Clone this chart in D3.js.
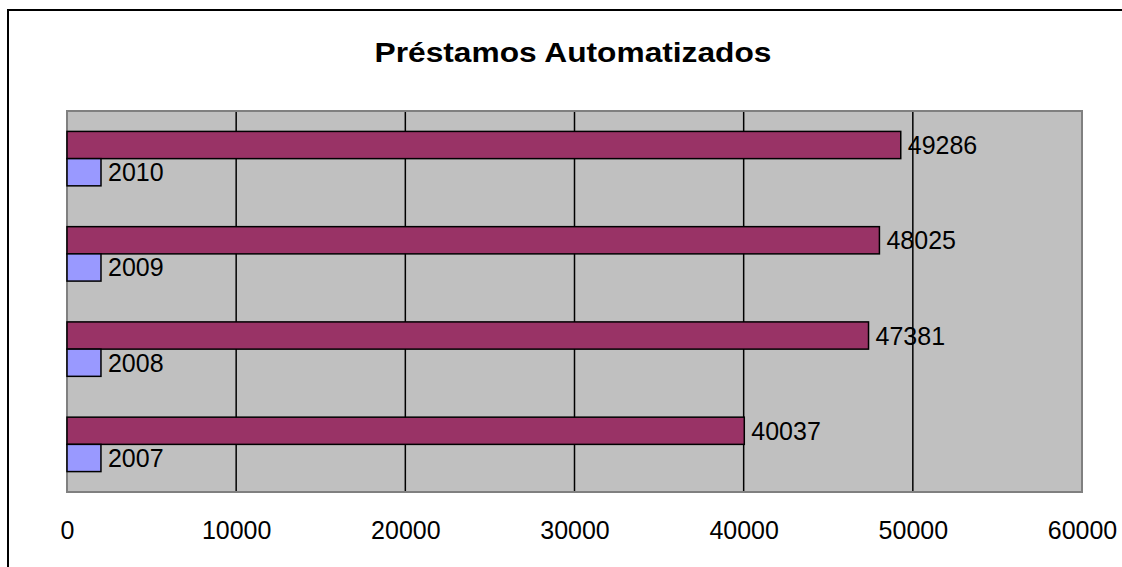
<!DOCTYPE html>
<html>
<head>
<meta charset="utf-8">
<script src="https://cdn.jsdelivr.net/npm/d3@7"></script>
<style>
  html, body { margin: 0; padding: 0; background: #fff; }
  svg { display: block; }
  text { font-family: "Liberation Sans", Arial, sans-serif; fill: #000; }
</style>
</head>
<body>
<svg id="chart" width="1122" height="567"></svg>
<script>
const title = "Préstamos Automatizados";
const categories = ["2007", "2008", "2009", "2010"];
const yearValues = [2007, 2008, 2009, 2010];
const loanValues = [40037, 47381, 48025, 49286];
const tickValues = [0, 10000, 20000, 30000, 40000, 50000, 60000];
const seriesNames = ["loans", "year"];

const data = categories.map((c, i) => ({ cat: c, loans: loanValues[i], year: yearValues[i] }));

const svg = d3.select("#chart");
const plot = { left: 67, right: 1082, top: 111, bottom: 492 };

// Outer chart frame (extends past the image on right and bottom)
svg.append("rect")
  .attr("x", 8).attr("y", 10)
  .attr("width", 1200).attr("height", 700)
  .attr("fill", "#fff").attr("stroke", "#000").attr("stroke-width", 2);

// Title (glyphs stretched horizontally as in the reference)
const titleText = svg.append("text")
  .attr("text-anchor", "middle")
  .attr("font-size", 27).attr("font-weight", "bold")
  .text(title);
const tw = titleText.node().getComputedTextLength();
const sx = 397 / tw;
titleText.attr("transform", `translate(573,62) scale(${sx},1)`);

const x = d3.scaleLinear().domain([0, 60000]).range([plot.left, plot.right]);
const y0 = d3.scaleBand()
  .domain(categories.slice().reverse())
  .range([plot.top, plot.bottom])
  .paddingInner(1.5 / 3.5).paddingOuter(0.75 / 3.5);
const y1 = d3.scaleBand().domain(seriesNames).range([0, y0.bandwidth()]);
const color = { loans: "#993366", year: "#9999FF" };

// Plot area
svg.append("rect")
  .attr("x", plot.left).attr("y", plot.top)
  .attr("width", plot.right - plot.left).attr("height", plot.bottom - plot.top)
  .attr("fill", "#C0C0C0");

// Gridlines
svg.append("g").selectAll("line")
  .data(tickValues.filter(t => t > 0 && t < 60000))
  .join("line")
  .attr("x1", d => x(d)).attr("x2", d => x(d))
  .attr("y1", plot.top).attr("y2", plot.bottom)
  .attr("stroke", "#000").attr("stroke-width", 1.5);

// Plot border
svg.append("rect")
  .attr("x", plot.left).attr("y", plot.top)
  .attr("width", plot.right - plot.left).attr("height", plot.bottom - plot.top)
  .attr("fill", "none").attr("stroke", "#808080").attr("stroke-width", 2);

// Bars
const groups = svg.append("g").selectAll("g")
  .data(data).join("g")
  .attr("transform", d => `translate(0,${y0(d.cat)})`);

groups.selectAll("rect")
  .data(d => seriesNames.map(k => ({ key: k, value: d[k] })))
  .join("rect")
  .attr("x", x(0))
  .attr("y", d => y1(d.key))
  .attr("width", d => x(d.value) - x(0))
  .attr("height", y1.bandwidth())
  .attr("fill", d => color[d.key])
  .attr("stroke", "#000").attr("stroke-width", 1.5);

groups.selectAll("text")
  .data(d => seriesNames.map(k => ({ key: k, value: d[k] })))
  .join("text")
  .attr("x", d => x(d.value) + 7)
  .attr("y", d => y1(d.key) + y1.bandwidth() / 2)
  .attr("dy", "0.36em")
  .attr("font-size", 25)
  .text(d => String(d.value));

// X axis labels
const axis = d3.axisBottom(x).tickValues(tickValues).tickSize(0).tickPadding(29).tickFormat(d3.format("d"));
const gx = svg.append("g").attr("transform", `translate(0,${plot.bottom})`).call(axis);
gx.select(".domain").remove();
gx.selectAll("text")
  .attr("font-size", 25)
  .attr("font-family", "'Liberation Sans', Arial, sans-serif")
  .attr("fill", "#000");
</script>
</body>
</html>
